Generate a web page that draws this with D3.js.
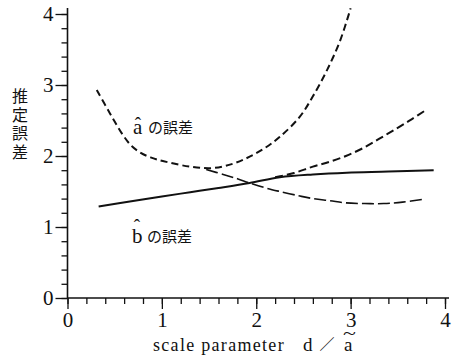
<!DOCTYPE html>
<html>
<head>
<meta charset="utf-8">
<script src="https://cdn.jsdelivr.net/npm/d3@7/dist/d3.min.js"></script>
<style>
  html, body { margin: 0; padding: 0; background: #fff; }
  svg { display: block; }
</style>
</head>
<body>
<svg id="chart" width="452" height="359"></svg>
<script>
// Estimation error versus scale parameter d / ã
const xTicks = [0, 1, 2, 3, 4];
const yTicks = [0, 1, 2, 3, 4];
const minorStep = 0.2;

// error of â (U-shaped dashed curve)
const aErrX = [0.31, 0.45, 0.59, 0.68, 0.77, 0.88, 1.01, 1.30, 1.54, 1.75, 1.93, 2.10, 2.25, 2.46, 2.60, 2.75, 2.89, 3.00];
const aErrY = [2.93, 2.60, 2.29, 2.14, 2.05, 1.98, 1.93, 1.85, 1.83, 1.89, 1.99, 2.12, 2.27, 2.55, 2.84, 3.21, 3.63, 4.08];

// falling dashed curve
const fallX = [1.47, 1.65, 1.80, 1.93, 2.10, 2.25, 2.45, 2.60, 2.78, 2.95, 3.15, 3.35, 3.55, 3.77];
const fallY = [1.81, 1.74, 1.68, 1.62, 1.55, 1.50, 1.44, 1.40, 1.37, 1.34, 1.33, 1.33, 1.35, 1.39];

// rising dashed curve
const riseX = [2.20, 2.40, 2.60, 2.78, 2.95, 3.13, 3.30, 3.49, 3.65, 3.80];
const riseY = [1.70, 1.76, 1.85, 1.92, 2.00, 2.11, 2.24, 2.39, 2.52, 2.65];

// error of b̂ (solid curve)
const bErrX = [0.33, 0.66, 1.00, 1.30, 1.60, 1.93, 2.25, 2.60, 2.96, 3.40, 3.88];
const bErrY = [1.29, 1.36, 1.43, 1.49, 1.55, 1.62, 1.70, 1.74, 1.765, 1.78, 1.80];

const SERIF = '"Liberation Serif"';
const CJK = '"Noto Sans CJK JP"';

const svg = d3.select("#chart");
const x = d3.scaleLinear().domain([0, 4]).range([67.5, 445]);
const y = d3.scaleLinear().domain([0, 4]).range([298, 14]);

const minor = d3.range(0, 4 + 1e-9, minorStep).map(v => +v.toFixed(1));

// axes: minor ticks, then major ticks with labels
const xMinor = d3.axisBottom(x).tickValues(minor).tickSize(6).tickFormat("");
const xMajor = d3.axisBottom(x).tickValues(xTicks).tickSize(11).tickPadding(3).tickFormat(d3.format("d"));
const yMinor = d3.axisLeft(y).tickValues(minor).tickSize(6).tickFormat("");
const yMajor = d3.axisLeft(y).tickValues(yTicks).tickSize(12).tickPadding(2).tickFormat(d3.format("d"));

function styleAxis(g) {
  g.attr("font-family", null).attr("font-size", null);
  g.select(".domain").remove();
  g.selectAll(".tick line").attr("stroke", "#111").attr("stroke-width", 1.3);
  g.selectAll(".tick text").attr("fill", "#111")
    .style("font-family", SERIF).style("font-size", "21px");
}

svg.append("g").attr("transform", `translate(0,${y(0)})`).call(xMinor).call(styleAxis);
svg.append("g").attr("transform", `translate(0,${y(0)})`).call(xMajor).call(styleAxis);
svg.append("g").attr("transform", `translate(${x(0)},0)`).call(yMinor).call(styleAxis);
svg.append("g").attr("transform", `translate(${x(0)},0)`).call(yMajor).call(styleAxis);

// axis lines
svg.append("line").attr("x1", x(0)).attr("x2", x(4) + 4).attr("y1", y(0)).attr("y2", y(0))
  .attr("stroke", "#111").attr("stroke-width", 1.6);
svg.append("line").attr("x1", x(0)).attr("x2", x(0)).attr("y1", y(0)).attr("y2", y(4) - 6)
  .attr("stroke", "#111").attr("stroke-width", 1.6);

// curves
const line = d3.line().x(d => x(d[0])).y(d => y(d[1])).curve(d3.curveCatmullRom.alpha(0.5));
const pts = (xs, ys) => xs.map((v, i) => [v, ys[i]]);

svg.append("path").datum(pts(aErrX, aErrY)).attr("d", line)
  .attr("fill", "none").attr("stroke", "#111").attr("stroke-width", 2).attr("stroke-dasharray", "7,4");
svg.append("path").datum(pts(fallX, fallY)).attr("d", line)
  .attr("fill", "none").attr("stroke", "#111").attr("stroke-width", 1.6).attr("stroke-dasharray", "12,4");
svg.append("path").datum(pts(riseX, riseY)).attr("d", line)
  .attr("fill", "none").attr("stroke", "#111").attr("stroke-width", 2).attr("stroke-dasharray", "8,4");
svg.append("path").datum(pts(bErrX, bErrY)).attr("d", line)
  .attr("fill", "none").attr("stroke", "#111").attr("stroke-width", 2);

// curve labels: letter, hat above it, then "の誤差"
function errLabel(letter, lx, ly, hatLift) {
  const g = svg.append("g").attr("fill", "#111");
  g.append("text").attr("x", lx).attr("y", ly)
    .style("font-family", SERIF).style("font-size", "21px").text(letter);
  g.append("text").attr("x", lx + 5).attr("y", ly - hatLift).attr("text-anchor", "middle")
    .style("font-family", SERIF).style("font-size", "19px").text("ˆ");
  g.append("text").attr("x", lx + 15).attr("y", ly - 1)
    .style("font-family", CJK).style("font-size", "15px").text("の誤差");
}
errLabel("a", 133, 134, 4);
errLabel("b", 132, 243, 11);

// y axis title, stacked vertically
const yTitle = "推定誤差".split("");
svg.append("g").selectAll("text").data(yTitle).join("text")
  .attr("x", 20).attr("y", (d, i) => 102 + i * 18.7).attr("text-anchor", "middle")
  .style("font-family", CJK).style("font-size", "16px").attr("fill", "#111").text(d => d);

// x axis title
const xt = svg.append("g").attr("fill", "#111");
xt.append("text").attr("x", 153).attr("y", 351)
  .style("font-family", SERIF).style("font-size", "18px")
  .attr("letter-spacing", 1.3).text("scale parameter");
xt.append("text").attr("x", 303).attr("y", 351)
  .style("font-family", SERIF).style("font-size", "19px").text("d");
xt.append("text").attr("x", 327).attr("y", 350).attr("text-anchor", "middle")
  .style("font-family", CJK).style("font-size", "15px").text("／");
xt.append("text").attr("x", 344).attr("y", 351)
  .style("font-family", SERIF).style("font-size", "19px").text("a");
// wide tilde over the "a"
xt.append("text").attr("transform", "translate(349.5,339) scale(1.4,1)").attr("text-anchor", "middle")
  .style("font-family", SERIF).style("font-size", "17px").text("~");
</script>
</body>
</html>
